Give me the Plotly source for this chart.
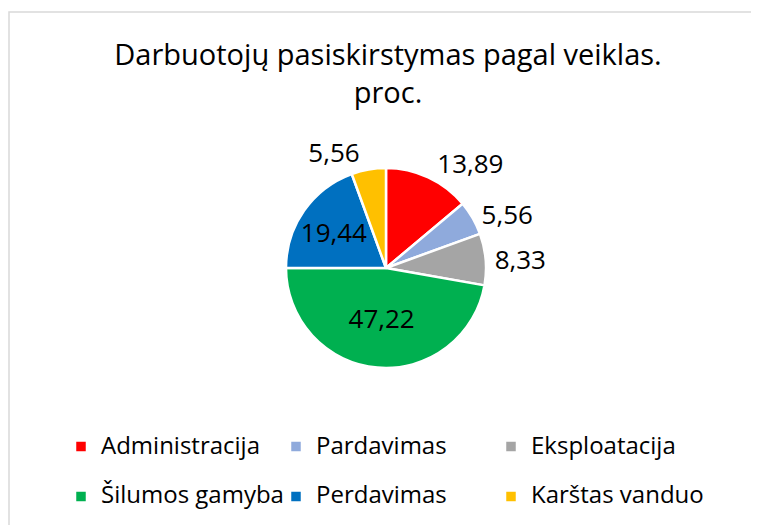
import plotly.graph_objects as go

categories = ["Administracija", "Pardavimas", "Eksploatacija",
              "Šilumos gamyba", "Perdavimas", "Karštas vanduo"]
values = [13.89, 5.56, 8.33, 47.22, 19.44, 5.56]
colors = ["#FF0000", "#8FAADC", "#A5A5A5", "#00B050", "#0070C0", "#FFC000"]
text_positions = ["outside", "outside", "outside", "inside", "inside", "outside"]
title_text = "Darbuotojų pasiskirstymas pagal veiklas.<br>proc."

W, H = 759, 525
FONT = "Open Sans"
LEG_SIZE = 24

legend_names = [" <br><span style='font-size:%dpx'>%s</span>" % (LEG_SIZE, c)
                for c in categories]

fig = go.Figure(go.Pie(
    labels=legend_names,
    values=values,
    sort=False,
    direction="clockwise",
    rotation=0,
    marker=dict(colors=colors, line=dict(color="white", width=2.5)),
    texttemplate="%{value:.2f}",
    textposition=text_positions,
    insidetextorientation="horizontal",
    textfont=dict(family=FONT, size=26, color="black"),
    domain=dict(x=[278 / W, 478 / W], y=[165 / H, 365 / H]),
    hoverinfo="skip",
))

fig.update_layout(
    width=W, height=H,
    margin=dict(l=0, r=0, t=0, b=0),
    paper_bgcolor="white",
    plot_bgcolor="white",
    separators=",.",
    uniformtext=dict(minsize=26, mode="show"),
    title=dict(text=title_text, x=380 / W, xanchor="center",
               y=1 - 57 / H, yanchor="top",
               font=dict(family=FONT, size=29, color="black")),
    legend=dict(orientation="h", x=53 / W, xanchor="left",
                y=1 - 397 / H, yanchor="top",
                entrywidth=170, entrywidthmode="pixels",
                valign="bottom",
                font=dict(family=FONT, size=18, color="black"),
                bgcolor="rgba(0,0,0,0)"),
    shapes=[dict(type="rect", xref="paper", yref="paper",
                 x0=1 / W, x1=1.05, y0=-0.05, y1=1 - 4 / H,
                 line=dict(color="#D9D9D9", width=1.5),
                 fillcolor="rgba(0,0,0,0)", layer="below")],
)

fig.write_html("out.html")
